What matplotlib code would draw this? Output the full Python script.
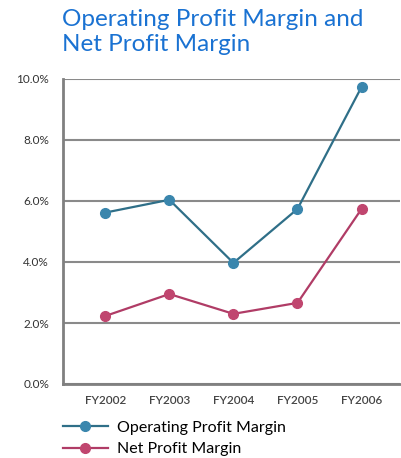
import matplotlib.pyplot as plt
from matplotlib.ticker import FuncFormatter

years = ['FY2002', 'FY2003', 'FY2004', 'FY2005', 'FY2006']
operating_margin = [5.62, 6.04, 3.97, 5.74, 9.74]
net_margin = [2.23, 2.95, 2.30, 2.66, 5.74]

plt.rcParams['font.family'] = ['Lato', 'DejaVu Sans']

fig = plt.figure(figsize=(4.02, 4.58), dpi=100)
ax = fig.add_axes([63 / 402, 1 - 384 / 458, (400 - 63) / 402, (384 - 79) / 458])

x = range(len(years))
ax.plot(x, operating_margin, color='#2f6f88', lw=1.6, marker='o', ms=7,
        mfc='#3a86ad', mec='#3a86ad', label='Operating Profit Margin', zorder=3)
ax.plot(x, net_margin, color='#b03c66', lw=1.6, marker='o', ms=7,
        mfc='#c0466f', mec='#c0466f', label='Net Profit Margin', zorder=3)

ax.set_xlim(-0.66, 4.6)
ax.set_ylim(0, 10)
ax.set_yticks([0, 2, 4, 6, 8, 10])
ax.yaxis.set_major_formatter(FuncFormatter(lambda v, p: f'{v:.1f}%'))
ax.set_xticks(list(x))
ax.set_xticklabels(years, fontsize=8.5, color='#444444', fontweight='semibold')
ax.tick_params(axis='y', labelsize=8.5, labelcolor='#333333', length=0, pad=10)
ax.tick_params(axis='x', length=0, pad=8)
ax.grid(axis='y', color='#8a8a8a', lw=1.5)
ax.set_axisbelow(True)
for s in ['top', 'right']:
    ax.spines[s].set_visible(False)
for s in ['left', 'bottom']:
    ax.spines[s].set_color('#808080')
    ax.spines[s].set_linewidth(2)

fig.text(62 / 402, 1 - 9 / 458, 'Operating Profit Margin and\nNet Profit Margin',
         color='#1a72d2', fontsize=17.5, va='top', ha='left', linespacing=1.25)

ax.legend(loc='upper left', bbox_to_anchor=(0.0, -0.12), frameon=False,
          fontsize=11.5, handlelength=2.8, handletextpad=0.6, labelspacing=0.45,
          borderpad=0, borderaxespad=0)

fig.savefig('out.png', dpi=100)
